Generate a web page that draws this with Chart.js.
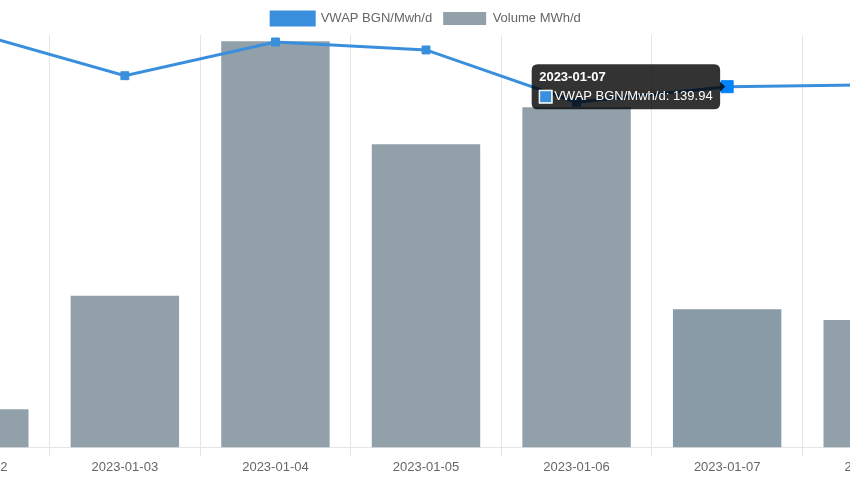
<!DOCTYPE html>
<html>
<head>
<meta charset="utf-8">
<script src="https://cdn.jsdelivr.net/npm/chart.js@4"></script>
<style>
    html, body { margin: 0; padding: 0; background: #fff; overflow: hidden; width: 850px; height: 480px; }
    #wrap { position: absolute; left: -101px; top: 0; width: 1054px; height: 480px; }
</style>
</head>
<body>
<div id="wrap"><canvas id="vwapChart"></canvas></div>
<script>
var tage = ['2023-01-02', '2023-01-03', '2023-01-04', '2023-01-05', '2023-01-06', '2023-01-07', '2023-01-08'];
var vwapWerte = [160.8, 144.2, 157.3, 154.2, 133.9, 139.94, 140.7];
var volumenWerte = [370, 1470, 3940, 2940, 3300, 1340, 1235];

var vwapFarbe = '#3a8fdd';
var volumenFarbe = '#92a0aa';
var aktiverTag = 5;

var vwapChart = null;

function zeichneChart() {
    Chart.defaults.font.family = "Arial, 'Liberation Sans', sans-serif";
    Chart.defaults.font.size = 13;
    Chart.defaults.color = '#666';

    var ctx = document.getElementById('vwapChart').getContext('2d');
    vwapChart = new Chart(ctx, {
        type: 'bar',
        data: {
            labels: tage,
            datasets: [
                {
                    label: 'VWAP BGN/Mwh/d', data: vwapWerte, type: 'line', yAxisID: 'y1',
                    borderColor: vwapFarbe, backgroundColor: vwapFarbe, borderWidth: 3, tension: 0, fill: false,
                    pointStyle: 'rect', pointRadius: 5.6, pointHoverRadius: 8.5,
                    pointBackgroundColor: vwapFarbe, pointBorderColor: vwapFarbe, pointBorderWidth: 1
                },
                {
                    label: 'Volume MWh/d', data: volumenWerte, yAxisID: 'y',
                    backgroundColor: volumenFarbe, hoverBackgroundColor: '#8a9ba8', borderWidth: 0
                }
            ]
        },
        options: {
            responsive: true, maintainAspectRatio: false, animation: false,
            layout: { autoPadding: false, padding: { top: 1, bottom: 2 } },
            plugins: {
                legend: { position: 'top', labels: { boxWidth: 43, boxHeight: 13, padding: 11 } },
                tooltip: {
                    titleFont: { size: 13, weight: 'bold', lineHeight: 1 },
                    bodyFont: { size: 13, lineHeight: 1 },
                    padding: { top: 6.5, bottom: 6, left: 7.5, right: 7.5 },
                    titleMarginBottom: 6.5, caretSize: 5, cornerRadius: 6,
                    callbacks: {
                        labelColor: function() { return { borderColor: '#fff', backgroundColor: vwapFarbe }; }
                    }
                }
            },
            scales: {
                x: { grid: { tickLength: 9 }, ticks: { padding: 3 } },
                y: { display: false, min: 0, max: 4000 },
                y1: { display: false, min: 0, max: 160 }
            }
        }
    });

    // Hover-Zustand wie im Original: Punkt am 2023-01-07
    var punkt = vwapChart.getDatasetMeta(0).data[aktiverTag];
    vwapChart.setActiveElements([{ datasetIndex: 0, index: aktiverTag }, { datasetIndex: 1, index: aktiverTag }]);
    vwapChart.tooltip.setActiveElements([{ datasetIndex: 0, index: aktiverTag }], { x: punkt.x, y: punkt.y });
    vwapChart.update();
}

zeichneChart();
</script>
</body>
</html>
